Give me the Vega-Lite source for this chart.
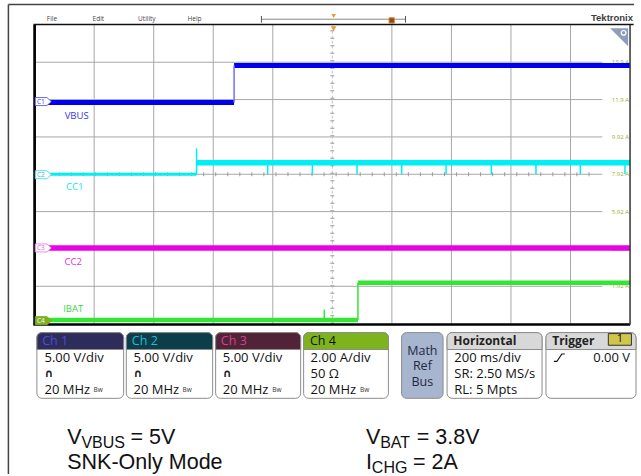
{
  "$schema": "https://vega.github.io/schema/vega-lite/v6.json",
  "width": 641,
  "height": 476,
  "autosize": {"type": "fit", "contains": "padding"},
  "padding": 0,
  "background": "#ffffff",
  "config": {"view": {"stroke": null}},
  "datasets": {
    "gridV": [{"fx": 1}, {"fx": 2}, {"fx": 3}, {"fx": 4}, {"fx": 6}, {"fx": 7}, {"fx": 8}, {"fx": 9}],
    "gridH": [{"fy": 1}, {"fy": 2}, {"fy": 3}, {"fy": 4}, {"fy": 5}, {"fy": 6}, {"fy": 7}],
    "ampLabels": [
      {"fy": 7, "label": "13.9 A"}, {"fy": 6, "label": "11.9 A"}, {"fy": 5, "label": "9.92 A"},
      {"fy": 4, "label": "7.92 A"}, {"fy": 3, "label": "5.92 A"}, {"fy": 2, "label": "3.92 A"}, {"fy": 1, "label": "1.92 A"}
    ],
    "menu": [
      {"fx": 0.291, "fy": 8.152, "label": "File"}, {"fx": 1.071, "fy": 8.152, "label": "Edit"},
      {"fx": 1.885, "fy": 8.152, "label": "Utility"}, {"fx": 2.686, "fy": 8.152, "label": "Help"}
    ],
    "ch1": [
      {"seg": "a", "t": -1000, "v": 0}, {"seg": "a", "t": -330, "v": 0},
      {"seg": "b", "t": -330, "v": 4.95}, {"seg": "b", "t": 1000, "v": 4.95}
    ],
    "ch1edge": [{"t": -330, "v": 0, "v2": 4.95}],
    "ch2lo": [{"t": -1000, "v": 0}, {"t": -456, "v": 0}],
    "ch2hi": [{"t": -456, "v": 1.53}, {"t": 1000, "v": 1.53}],
    "ch2rules": [
      {"t": -456, "v": 0, "v2": 3.47},
      {"t": -217, "v": 0, "v2": 1.53}, {"t": -67, "v": 0, "v2": 1.53}, {"t": 83, "v": 0, "v2": 1.53},
      {"t": 233, "v": 0, "v2": 1.53}, {"t": 382, "v": 0, "v2": 1.53}, {"t": 534, "v": 0, "v2": 1.53},
      {"t": 684, "v": 0, "v2": 1.53}, {"t": 833, "v": 0, "v2": 1.53}, {"t": 983, "v": 0, "v2": 1.53}
    ],
    "ch3": [{"t": -1000, "v": 0}, {"t": 1000, "v": 0}],
    "ch4lo": [{"t": -1000, "v": 0.09}, {"t": 86, "v": 0.09}],
    "ch4hi": [{"t": 86, "v": 2.08}, {"t": 1000, "v": 2.08}],
    "ch4rules": [{"t": 86, "v": 0.09, "v2": 2.08}, {"t": -27, "v": 0.09, "v2": 0.64}],
    "markers": [
      {"fx": 0.146, "fy": 5.947, "label": "C1", "ch": "1"},
      {"fx": 0.146, "fy": 3.987, "label": "C2", "ch": "2"},
      {"fx": 0.146, "fy": 2.027, "label": "C3", "ch": "3"},
      {"fx": 0.146, "fy": 0.08, "label": "C4", "ch": "4"}
    ],
    "tlabels": [
      {"fx": 0.706, "fy": 5.547, "label": "VBUS", "ch": "1"},
      {"fx": 0.673, "fy": 3.653, "label": "CC1", "ch": "2"},
      {"fx": 0.648, "fy": 1.653, "label": "CC2", "ch": "3"},
      {"fx": 0.648, "fy": 0.381, "label": "IBAT", "ch": "4"}
    ],
    "boxes": [
      {"fx": 0.038, "fx2": 1.495, "k": "w"}, {"fx": 1.54, "fx2": 2.99, "k": "w"},
      {"fx": 3.04, "fx2": 4.468, "k": "w"}, {"fx": 4.518, "fx2": 5.942, "k": "w"},
      {"fx": 6.163, "fx2": 6.86, "k": "m"}, {"fx": 6.927, "fx2": 8.522, "k": "w"},
      {"fx": 8.588, "fx2": 10.1, "k": "w"}
    ],
    "heads": [
      {"fx": 0.038, "fx2": 1.495, "k": "c1"}, {"fx": 1.54, "fx2": 2.99, "k": "c2"},
      {"fx": 3.04, "fx2": 4.468, "k": "c3"}, {"fx": 4.518, "fx2": 5.942, "k": "c4"},
      {"fx": 6.927, "fx2": 8.522, "k": "g"}, {"fx": 8.588, "fx2": 10.1, "k": "g"}
    ],
    "headText": [
      {"fx": 0.128, "fy": -0.472, "label": "Ch 1", "k": "c1"},
      {"fx": 1.633, "fy": -0.472, "label": "Ch 2", "k": "c2"},
      {"fx": 3.128, "fy": -0.472, "label": "Ch 3", "k": "c3"},
      {"fx": 4.623, "fy": -0.472, "label": "Ch 4", "k": "c4"}
    ],
    "headBold": [
      {"fx": 7.032, "fy": -0.472, "label": "Horizontal"},
      {"fx": 8.693, "fy": -0.472, "label": "Trigger"}
    ],
    "bodyText": [
      {"fx": 0.166, "fy": -0.933, "label": "5.00 V/div"}, {"fx": 0.166, "fy": -1.773, "label": "20 MHz"},
      {"fx": 1.661, "fy": -0.933, "label": "5.00 V/div"}, {"fx": 1.661, "fy": -1.773, "label": "20 MHz"},
      {"fx": 3.161, "fy": -0.933, "label": "5.00 V/div"}, {"fx": 3.161, "fy": -1.773, "label": "20 MHz"},
      {"fx": 4.635, "fy": -0.933, "label": "2.00 A/div"}, {"fx": 4.635, "fy": -1.347, "label": "50 Ω"},
      {"fx": 4.635, "fy": -1.773, "label": "20 MHz"},
      {"fx": 7.048, "fy": -0.933, "label": "200 ms/div"}, {"fx": 7.048, "fy": -1.347, "label": "SR: 2.50 MS/s"},
      {"fx": 7.048, "fy": -1.773, "label": "RL: 5 Mpts"}
    ],
    "icons": [
      {"fx": 0.166, "fy": -1.347, "label": "∩"}, {"fx": 1.661, "fy": -1.347, "label": "∩"},
      {"fx": 3.161, "fy": -1.347, "label": "∩"}
    ],
    "bw": [
      {"fx": 0.99, "fy": -1.773, "label": "Bw"}, {"fx": 2.485, "fy": -1.773, "label": "Bw"},
      {"fx": 3.99, "fy": -1.773, "label": "Bw"}, {"fx": 5.465, "fy": -1.773, "label": "Bw"}
    ],
    "mathText": [
      {"fx": 6.512, "fy": -0.72, "label": "Math"}, {"fx": 6.512, "fy": -1.147, "label": "Ref"},
      {"fx": 6.512, "fy": -1.573, "label": "Bus"}
    ],
    "trigEdge": [
      {"fx": 8.721, "fy": -1.013}, {"fx": 8.771, "fy": -1.013}, {"fx": 8.854, "fy": -0.813}, {"fx": 8.904, "fy": -0.813}
    ],
    "mainText": [
      {"fx": 0.548, "fy": -3.227, "label": "V"}, {"fx": 1.61, "fy": -3.227, "label": "= 5V"},
      {"fx": 0.548, "fy": -3.893, "label": "SNK-Only Mode"},
      {"fx": 5.565, "fy": -3.227, "label": "V"}, {"fx": 6.419, "fy": -3.227, "label": "= 3.8V"},
      {"fx": 5.565, "fy": -3.893, "label": "I"}, {"fx": 6.356, "fy": -3.893, "label": "= 2A"}
    ],
    "subText": [
      {"fx": 0.786, "fy": -3.333, "label": "VBUS"},
      {"fx": 5.803, "fy": -3.333, "label": "BAT"},
      {"fx": 5.664, "fy": -4.0, "label": "CHG"}
    ]
  },
  "resolve": {"scale": {"x": "independent", "y": "independent"}},
  "layer": [
    {
      "layer": [
        {"data": {"name": "gridV"}, "mark": {"type": "rule", "color": "#a8a8a8", "strokeWidth": 1},
         "encoding": {"x": {"field": "fx", "type": "quantitative", "scale": {"domain": [-0.5814, 10.0664], "nice": false, "zero": false}, "axis": null},
                      "y": {"datum": 0, "type": "quantitative", "scale": {"domain": [-4.0267, 8.6667], "nice": false, "zero": false}, "axis": null}, "y2": {"datum": 8}}},
        {"data": {"name": "gridH"}, "mark": {"type": "rule", "color": "#a8a8a8", "strokeWidth": 1},
         "encoding": {"x": {"datum": 0, "type": "quantitative", "scale": {"domain": [-0.5814, 10.0664], "nice": false, "zero": false}, "axis": null}, "x2": {"datum": 9.535},
                      "y": {"field": "fy", "type": "quantitative", "scale": {"domain": [-4.0267, 8.6667], "nice": false, "zero": false}, "axis": null}}},
        {"data": {"values": [{}]}, "mark": {"type": "rule", "color": "#c4c4c4", "strokeWidth": 1, "strokeDash": [3, 2]},
         "encoding": {"x": {"datum": 5, "type": "quantitative"}, "y": {"datum": 0, "type": "quantitative"}, "y2": {"datum": 8}}},
        {"data": {"values": [{}]}, "mark": {"type": "rule", "color": "#9a9a9a", "strokeWidth": 4, "strokeDash": [1, 6.5]},
         "encoding": {"x": {"datum": 5, "type": "quantitative"}, "y": {"datum": 0, "type": "quantitative"}, "y2": {"datum": 8}}},
        {"data": {"values": [{}]}, "mark": {"type": "rule", "color": "#9a9a9a", "strokeWidth": 4, "strokeDash": [1, 11.04]},
         "encoding": {"x": {"datum": 0, "type": "quantitative"}, "x2": {"datum": 9.5}, "y": {"datum": 4, "type": "quantitative"}}},
        {"data": {"name": "ampLabels"}, "mark": {"type": "text", "align": "right", "baseline": "middle", "font": "Open Sans", "fontSize": 6, "color": "#98b22e"},
         "encoding": {"x": {"datum": 9.983, "type": "quantitative"}, "y": {"field": "fy", "type": "quantitative"}, "text": {"field": "label"}}},
        {"data": {"name": "menu"}, "mark": {"type": "text", "align": "center", "baseline": "middle", "font": "Open Sans", "fontSize": 6.5, "color": "#444444"},
         "encoding": {"x": {"field": "fx", "type": "quantitative"}, "y": {"field": "fy", "type": "quantitative"}, "text": {"field": "label"}}},
        {"data": {"values": [{}]}, "mark": {"type": "rule", "color": "#8a8a8a", "strokeWidth": 1},
         "encoding": {"x": {"datum": 3.809, "type": "quantitative"}, "x2": {"datum": 6.229}, "y": {"datum": 8.152, "type": "quantitative"}}},
        {"data": {"values": [{}]}, "mark": {"type": "rule", "color": "#555555", "strokeWidth": 1},
         "encoding": {"x": {"datum": 3.809, "type": "quantitative"}, "y": {"datum": 8.24, "type": "quantitative"}, "y2": {"datum": 8.06}}},
        {"data": {"values": [{}]}, "mark": {"type": "rule", "color": "#555555", "strokeWidth": 1},
         "encoding": {"x": {"datum": 6.229, "type": "quantitative"}, "y": {"datum": 8.24, "type": "quantitative"}, "y2": {"datum": 8.06}}},
        {"data": {"values": [{}]}, "mark": {"type": "point", "shape": "triangle-down", "filled": true, "size": 22, "color": "#f09a30", "opacity": 1},
         "encoding": {"x": {"datum": 5.022, "type": "quantitative"}, "y": {"datum": 8.24, "type": "quantitative"}}},
        {"data": {"values": [{}]}, "mark": {"type": "point", "shape": "triangle-down", "filled": true, "size": 32, "color": "#f09a30", "opacity": 1},
         "encoding": {"x": {"datum": 5.022, "type": "quantitative"}, "y": {"datum": 7.9, "type": "quantitative"}}},
        {"data": {"values": [{}]}, "mark": {"type": "point", "shape": "square", "filled": true, "size": 28, "fill": "#8b4a12", "stroke": "#e08a30", "strokeWidth": 1, "opacity": 1},
         "encoding": {"x": {"datum": 5.997, "type": "quantitative"}, "y": {"datum": 8.12, "type": "quantitative"}}},
        {"data": {"values": [{}]}, "mark": {"type": "text", "text": "Tektronix", "align": "right", "baseline": "middle", "font": "Liberation Sans", "fontWeight": "bold", "fontSize": 9.5, "color": "#404040"},
         "encoding": {"x": {"datum": 10.05, "type": "quantitative"}, "y": {"datum": 8.187, "type": "quantitative"}}},
        {"data": {"values": [{}]}, "mark": {"type": "point", "shape": "M -1 -1 L 1 -1 L 1 1 Z", "filled": true, "size": 324, "color": "#8d9dbd", "opacity": 1},
         "encoding": {"x": {"datum": 9.817, "type": "quantitative"}, "y": {"datum": 7.667, "type": "quantitative"}}},
        {"data": {"values": [{}]}, "mark": {"type": "point", "shape": "circle", "filled": false, "size": 22, "color": "#ffffff", "strokeWidth": 1.2, "opacity": 1},
         "encoding": {"x": {"datum": 9.892, "type": "quantitative"}, "y": {"datum": 7.787, "type": "quantitative"}}}
      ]
    },
    {
      "encoding": {
        "x": {"field": "t", "type": "quantitative", "scale": {"domain": [-1116.28, 1013.29], "nice": false, "zero": false}, "axis": null},
        "y": {"field": "v", "type": "quantitative", "scale": {"domain": [-49.733, 13.733], "nice": false, "zero": false}, "axis": null}
      },
      "layer": [
        {"data": {"name": "ch1"}, "mark": {"type": "line", "color": "#0000ee", "strokeWidth": 5, "strokeCap": "butt"}, "encoding": {"detail": {"field": "seg"}}},
        {"data": {"name": "ch1edge"}, "mark": {"type": "rule", "color": "#6f6ff8", "strokeWidth": 1.5}, "encoding": {"y2": {"field": "v2"}}}
      ]
    },
    {
      "encoding": {
        "x": {"field": "t", "type": "quantitative", "scale": {"domain": [-1116.28, 1013.29], "nice": false, "zero": false}, "axis": null},
        "y": {"field": "v", "type": "quantitative", "scale": {"domain": [-40.133, 23.333], "nice": false, "zero": false}, "axis": null}
      },
      "layer": [
        {"data": {"name": "ch2lo"}, "mark": {"type": "line", "color": "#00eef5", "strokeWidth": 3, "strokeCap": "butt"}},
        {"data": {"name": "ch2hi"}, "mark": {"type": "line", "color": "#00eef5", "strokeWidth": 5.5, "strokeCap": "butt"}},
        {"data": {"name": "ch2rules"}, "mark": {"type": "rule", "color": "#00eef5", "strokeWidth": 1.5}, "encoding": {"y2": {"field": "v2"}}}
      ]
    },
    {
      "encoding": {
        "x": {"field": "t", "type": "quantitative", "scale": {"domain": [-1116.28, 1013.29], "nice": false, "zero": false}, "axis": null},
        "y": {"field": "v", "type": "quantitative", "scale": {"domain": [-30.267, 33.2], "nice": false, "zero": false}, "axis": null}
      },
      "layer": [
        {"data": {"name": "ch3"}, "mark": {"type": "line", "color": "#e800e8", "strokeWidth": 5.5, "strokeCap": "butt"}}
      ]
    },
    {
      "encoding": {
        "x": {"field": "t", "type": "quantitative", "scale": {"domain": [-1116.28, 1013.29], "nice": false, "zero": false}, "axis": null},
        "y": {"field": "v", "type": "quantitative", "scale": {"domain": [-8.16, 17.227], "nice": false, "zero": false}, "axis": null}
      },
      "layer": [
        {"data": {"name": "ch4lo"}, "mark": {"type": "line", "color": "#33e633", "strokeWidth": 4.5, "strokeCap": "butt"}},
        {"data": {"name": "ch4hi"}, "mark": {"type": "line", "color": "#33e633", "strokeWidth": 4.5, "strokeCap": "butt"}},
        {"data": {"name": "ch4rules"}, "mark": {"type": "rule", "color": "#33e633", "strokeWidth": 1.5}, "encoding": {"y2": {"field": "v2"}}}
      ]
    },
    {
      "resolve": {"scale": {"color": "independent", "fill": "independent", "stroke": "independent"}},
      "layer": [
        {"data": {"values": [{}]}, "mark": {"type": "rule", "color": "#000000", "strokeWidth": 2.7},
         "encoding": {"x": {"datum": 0, "type": "quantitative", "scale": {"domain": [-0.5814, 10.0664], "nice": false, "zero": false}, "axis": null},
                      "y": {"datum": -0.03, "type": "quantitative", "scale": {"domain": [-4.0267, 8.6667], "nice": false, "zero": false}, "axis": null}, "y2": {"datum": 8}}},
        {"data": {"values": [{}]}, "mark": {"type": "rule", "color": "#111111", "strokeWidth": 1.5},
         "encoding": {"x": {"datum": -0.02, "type": "quantitative"}, "x2": {"datum": 10.06}, "y": {"datum": 8.01, "type": "quantitative"}}},
        {"data": {"values": [{}]}, "mark": {"type": "rule", "color": "#000000", "strokeWidth": 2.5},
         "encoding": {"x": {"datum": -0.02, "type": "quantitative"}, "x2": {"datum": 10.0}, "y": {"datum": -0.02, "type": "quantitative"}}},
        {"data": {"values": [{}]}, "mark": {"type": "rule", "color": "#333333", "strokeWidth": 1.5},
         "encoding": {"x": {"datum": 10.0, "type": "quantitative"}, "y": {"datum": -0.03, "type": "quantitative"}, "y2": {"datum": 8}}},
        {"data": {"values": [{}]}, "mark": {"type": "rule", "color": "#444444", "strokeWidth": 1.5},
         "encoding": {"x": {"datum": -0.4402, "type": "quantitative"}, "y": {"datum": -4.0267, "type": "quantitative"}, "y2": {"datum": 8.5467}}},
        {"data": {"values": [{}]}, "mark": {"type": "rule", "color": "#444444", "strokeWidth": 1.5},
         "encoding": {"x": {"datum": -0.4402, "type": "quantitative"}, "x2": {"datum": 10.0664}, "y": {"datum": 8.5467, "type": "quantitative"}}},
        {
          "data": {"name": "markers"},
          "mark": {"type": "point", "shape": "M -1 -0.5 L 0.45 -0.5 L 1 0 L 0.45 0.5 L -1 0.5 Z", "size": 256, "filled": true, "strokeWidth": 1, "opacity": 1},
          "encoding": {
            "x": {"field": "fx", "type": "quantitative"}, "y": {"field": "fy", "type": "quantitative"},
            "fill": {"field": "ch", "type": "nominal", "scale": {"domain": ["1", "2", "3", "4"], "range": ["#ffffff", "#ffffff", "#ffffff", "#7fae22"]}, "legend": null},
            "stroke": {"field": "ch", "type": "nominal", "scale": {"domain": ["1", "2", "3", "4"], "range": ["#6b6bf0", "#5fd8e8", "#f08af0", "#7fae22"]}, "legend": null}
          }
        },
        {
          "data": {"name": "markers"},
          "mark": {"type": "text", "align": "center", "baseline": "middle", "font": "Open Sans", "fontSize": 6.5, "dx": -2.5},
          "encoding": {
            "x": {"field": "fx", "type": "quantitative"}, "y": {"field": "fy", "type": "quantitative"},
            "text": {"field": "label"},
            "color": {"field": "ch", "type": "nominal", "scale": {"domain": ["1", "2", "3", "4"], "range": ["#4040e0", "#30c0d0", "#e060e0", "#ffffff"]}, "legend": null}
          }
        },
        {
          "data": {"name": "tlabels"},
          "mark": {"type": "text", "align": "center", "baseline": "middle", "font": "Open Sans", "fontSize": 9.5},
          "encoding": {
            "x": {"field": "fx", "type": "quantitative"}, "y": {"field": "fy", "type": "quantitative"},
            "text": {"field": "label"},
            "color": {"field": "ch", "type": "nominal", "scale": {"domain": ["1", "2", "3", "4"], "range": ["#3535f0", "#22e0f0", "#e030e0", "#40d840"]}, "legend": null}
          }
        },
        {
          "data": {"name": "boxes"},
          "mark": {"type": "rect", "cornerRadius": 5, "stroke": "#8c8c8c", "strokeWidth": 1},
          "encoding": {
            "x": {"field": "fx", "type": "quantitative"}, "x2": {"field": "fx2"},
            "y": {"datum": -0.24, "type": "quantitative"}, "y2": {"datum": -2.0},
            "fill": {"field": "k", "type": "nominal", "scale": {"domain": ["w", "m"], "range": ["#ffffff", "#a7b5cf"]}, "legend": null}
          }
        },
        {
          "data": {"name": "heads"},
          "mark": {"type": "rect", "cornerRadiusTopLeft": 5, "cornerRadiusTopRight": 5, "stroke": "#8c8c8c", "strokeWidth": 1},
          "encoding": {
            "x": {"field": "fx", "type": "quantitative"}, "x2": {"field": "fx2"},
            "y": {"datum": -0.24, "type": "quantitative"}, "y2": {"datum": -0.6933},
            "fill": {"field": "k", "type": "nominal", "scale": {"domain": ["c1", "c2", "c3", "c4", "g"], "range": ["#2d2c5a", "#0c3d4a", "#522238", "#7db41e", "#d8d8d8"]}, "legend": null}
          }
        },
        {
          "data": {"name": "headText"},
          "mark": {"type": "text", "align": "left", "baseline": "middle", "font": "Open Sans", "fontSize": 12.5},
          "encoding": {
            "x": {"field": "fx", "type": "quantitative"}, "y": {"field": "fy", "type": "quantitative"},
            "text": {"field": "label"},
            "color": {"field": "k", "type": "nominal", "scale": {"domain": ["c1", "c2", "c3", "c4"], "range": ["#4d4ddb", "#27bccf", "#d0468a", "#111111"]}, "legend": null}
          }
        },
        {"data": {"name": "headBold"}, "mark": {"type": "text", "align": "left", "baseline": "middle", "font": "Open Sans", "fontWeight": "bold", "fontSize": 12, "color": "#222222"},
         "encoding": {"x": {"field": "fx", "type": "quantitative"}, "y": {"field": "fy", "type": "quantitative"}, "text": {"field": "label"}}},
        {"data": {"name": "bodyText"}, "mark": {"type": "text", "align": "left", "baseline": "middle", "font": "Open Sans", "fontSize": 13, "color": "#111111"},
         "encoding": {"x": {"field": "fx", "type": "quantitative"}, "y": {"field": "fy", "type": "quantitative"}, "text": {"field": "label"}}},
        {"data": {"name": "icons"}, "mark": {"type": "text", "align": "left", "baseline": "middle", "font": "DejaVu Sans", "fontWeight": "bold", "fontSize": 11, "color": "#222222"},
         "encoding": {"x": {"field": "fx", "type": "quantitative"}, "y": {"field": "fy", "type": "quantitative"}, "text": {"field": "label"}}},
        {"data": {"name": "bw"}, "mark": {"type": "text", "align": "left", "baseline": "middle", "font": "Open Sans", "fontSize": 6.5, "color": "#333333"},
         "encoding": {"x": {"field": "fx", "type": "quantitative"}, "y": {"field": "fy", "type": "quantitative"}, "text": {"field": "label"}}},
        {"data": {"name": "mathText"}, "mark": {"type": "text", "align": "center", "baseline": "middle", "font": "Open Sans", "fontSize": 12.5, "color": "#1f2a44"},
         "encoding": {"x": {"field": "fx", "type": "quantitative"}, "y": {"field": "fy", "type": "quantitative"}, "text": {"field": "label"}}},
        {"data": {"values": [{}]}, "mark": {"type": "rect", "fill": "#cfc64a", "stroke": "#333333", "strokeWidth": 1},
         "encoding": {"x": {"datum": 9.635, "type": "quantitative"}, "x2": {"datum": 10.023}, "y": {"datum": -0.267, "type": "quantitative"}, "y2": {"datum": -0.579}}},
        {"data": {"values": [{}]}, "mark": {"type": "text", "text": "1", "align": "center", "baseline": "middle", "font": "Open Sans", "fontSize": 11, "color": "#111111"},
         "encoding": {"x": {"datum": 9.829, "type": "quantitative"}, "y": {"datum": -0.423, "type": "quantitative"}}},
        {"data": {"name": "trigEdge"}, "mark": {"type": "line", "color": "#111111", "strokeWidth": 1.2},
         "encoding": {"x": {"field": "fx", "type": "quantitative"}, "y": {"field": "fy", "type": "quantitative"}}},
        {"data": {"values": [{}]}, "mark": {"type": "text", "text": "0.00 V", "align": "right", "baseline": "middle", "font": "Open Sans", "fontSize": 13, "color": "#111111"},
         "encoding": {"x": {"datum": 10.0, "type": "quantitative"}, "y": {"datum": -0.933, "type": "quantitative"}}},
        {"data": {"name": "mainText"}, "mark": {"type": "text", "align": "left", "baseline": "alphabetic", "font": "Liberation Sans", "fontSize": 21.5, "color": "#111111"},
         "encoding": {"x": {"field": "fx", "type": "quantitative"}, "y": {"field": "fy", "type": "quantitative"}, "text": {"field": "label"}}},
        {"data": {"name": "subText"}, "mark": {"type": "text", "align": "left", "baseline": "alphabetic", "font": "Liberation Sans", "fontSize": 16, "color": "#111111"},
         "encoding": {"x": {"field": "fx", "type": "quantitative"}, "y": {"field": "fy", "type": "quantitative"}, "text": {"field": "label"}}}
      ]
    }
  ]
}
